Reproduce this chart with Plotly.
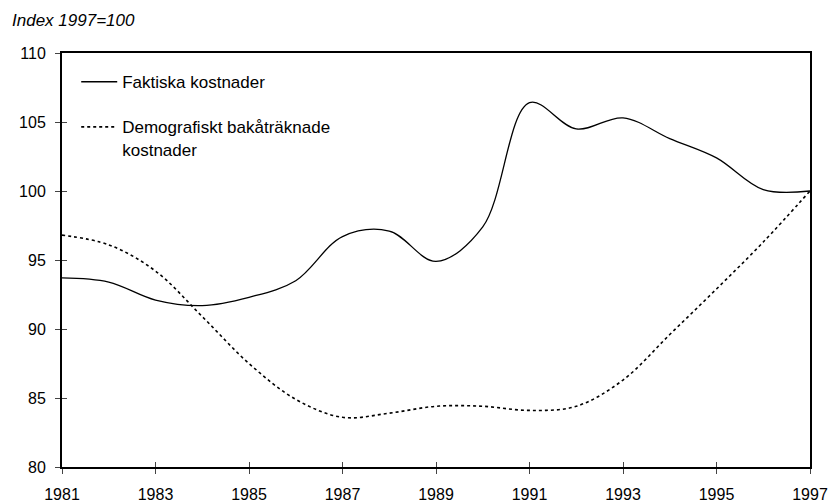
import plotly.graph_objects as go

years = list(range(1981, 1998))
faktiska = [93.7, 93.4, 92.1, 91.7, 92.3, 93.5, 96.7, 97.1, 94.9, 97.4,
            106.4, 104.5, 105.3, 103.8, 102.4, 100.1, 100.0]
demografiskt = [96.8, 96.1, 94.2, 90.9, 87.5, 84.9, 83.6, 83.9, 84.4, 84.4,
                84.1, 84.4, 86.3, 89.6, 92.9, 96.3, 100.0]
x_ticks = list(range(1981, 1998, 2))
y_ticks = [80, 85, 90, 95, 100, 105, 110]

FONT = "Liberation Sans, Arial, sans-serif"
W, H = 830, 503
L, R, T, B = 62, 20, 53, 36
PW, PH = W - L - R, H - T - B

fig = go.Figure()
fig.add_trace(go.Scatter(x=years, y=faktiska, mode="lines", name="Faktiska kostnader",
                         line=dict(color="black", width=1.3, shape="spline", smoothing=1),
                         legendgroup="a"))
fig.add_trace(go.Scatter(x=years, y=demografiskt, mode="lines",
                         name="Demografiskt bakåträknade<br>kostnader",
                         line=dict(color="black", width=1.6, dash="dot", shape="spline", smoothing=1),
                         legendgroup="b"))
# helper trace for the inside-tick overlay axes
fig.add_trace(go.Scatter(x=[None], y=[None], xaxis="x2", yaxis="y2", showlegend=False,
                         hoverinfo="skip"))

axis_common = dict(showgrid=False, zeroline=False, automargin=False)
fig.update_layout(
    width=W, height=H,
    margin=dict(l=L, r=R, t=T, b=B, autoexpand=False),
    paper_bgcolor="white", plot_bgcolor="white",
    font=dict(family=FONT, size=16, color="black"),
    xaxis=dict(range=[1981, 1997], tickmode="array", tickvals=x_ticks,
               ticktext=[str(v) for v in x_ticks],
               ticks="outside", ticklen=5, tickwidth=1, tickcolor="#444",
               showline=True, linecolor="black", linewidth=2, mirror=True,
               ticklabelstandoff=7, tickfont=dict(size=16), **axis_common),
    yaxis=dict(range=[80, 110], tickmode="array", tickvals=y_ticks,
               ticktext=[str(v) for v in y_ticks],
               ticks="outside", ticklen=5, tickwidth=1, tickcolor="#444",
               showline=True, linecolor="black", linewidth=2, mirror=True,
               ticklabelstandoff=6, tickfont=dict(size=16), **axis_common),
    xaxis2=dict(range=[1981, 1997], overlaying="x", anchor="y", side="bottom",
                tickmode="array", tickvals=x_ticks, ticks="inside", ticklen=5,
                tickwidth=1, tickcolor="#444", showticklabels=False, showline=False,
                **axis_common),
    yaxis2=dict(range=[80, 110], overlaying="y", anchor="x", side="left",
                tickmode="array", tickvals=y_ticks, ticks="inside", ticklen=5,
                tickwidth=1, tickcolor="#444", showticklabels=False, showline=False,
                **axis_common),
    legend=dict(x=0.019, y=0.973, xanchor="left", yanchor="top", bgcolor="rgba(0,0,0,0)",
                traceorder="grouped", tracegroupgap=20, valign="top",
                font=dict(family=FONT, size=17), itemwidth=36),
    showlegend=True,
    annotations=[dict(text="<i>Index 1997=100</i>", showarrow=False,
                      xref="paper", yref="paper",
                      x=(10 - L) / PW, xanchor="left",
                      y=1 + (T - 20) / PH, yanchor="middle",
                      font=dict(family=FONT, size=17, color="black"))],
)

# remove the default page margin so the 830x503 figure fills the window exactly
fig.write_html("out.html", config={"displayModeBar": False},
               post_script="document.body.style.margin='0';document.body.style.overflow='hidden';")
